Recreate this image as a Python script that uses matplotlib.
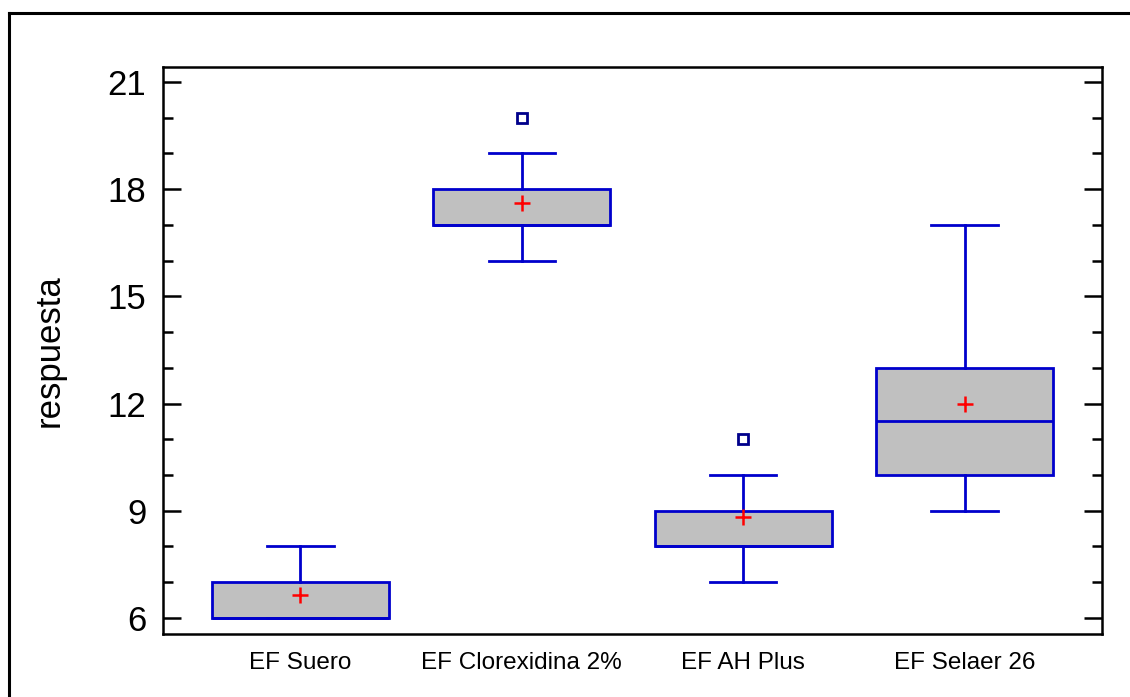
import matplotlib

matplotlib.use("Agg")
import matplotlib.pyplot as plt  # noqa: E402
from matplotlib.lines import Line2D  # noqa: E402
from matplotlib.ticker import MultipleLocator  # noqa: E402

# group labels and box-plot statistics
groups = ["EF Suero", "EF Clorexidina 2%", "EF AH Plus", "EF Selaer 26"]
q1 = [6, 17, 8, 10]
med = [6, 17, 8, 11.5]
q3 = [7, 18, 9, 13]
whis_lo = [6, 16, 7, 9]
whis_hi = [8, 19, 10, 17]
means = [6.63, 17.6, 8.83, 12.0]
outliers = [[], [20], [11], []]

W, H = 1130, 697
plt.rcParams["font.family"] = ["Liberation Sans", "DejaVu Sans"]

fig = plt.figure(figsize=(W / 100, H / 100), dpi=100)
ax = fig.add_axes([163 / W, 1 - 634 / H, (1102 - 163) / W, (634 - 67) / H])

stats = []
for i, g in enumerate(groups):
    stats.append(dict(label=g, q1=q1[i], med=med[i], q3=q3[i],
                      whislo=whis_lo[i], whishi=whis_hi[i],
                      mean=means[i], fliers=outliers[i]))

blue = "#0000CC"
ax.bxp(stats, positions=range(1, 5), widths=0.8, patch_artist=True,
       showmeans=True, showcaps=True,
       boxprops=dict(facecolor="#C0C0C0", edgecolor=blue, linewidth=2),
       medianprops=dict(color=blue, linewidth=2),
       whiskerprops=dict(color=blue, linewidth=2),
       capprops=dict(color=blue, linewidth=2),
       capwidths=0.3,
       meanprops=dict(marker="+", markeredgecolor="red", markersize=11,
                      markeredgewidth=1.8),
       flierprops=dict(marker="s", markerfacecolor="none", markeredgecolor="#00008B",
                       markersize=7, markeredgewidth=2))

ax.set_xlim(0.38, 4.62)
ax.set_ylim(5.55, 21.42)
ax.yaxis.set_major_locator(MultipleLocator(3))
ax.yaxis.set_minor_locator(MultipleLocator(1))
ax.tick_params(axis="y", which="major", direction="in", length=13, width=1.8,
               right=True, labelsize=25, pad=12)
ax.tick_params(axis="y", which="minor", direction="in", length=7, width=1.8,
               right=True)
ax.tick_params(axis="x", length=0, labelsize=17.5, pad=13)
for sp in ax.spines.values():
    sp.set_linewidth(1.8)

ax.set_ylabel("respuesta", fontsize=25, labelpad=30)

# outer frame of the picture (right and bottom run off the image)
fig.add_artist(Line2D([9 / W, 9 / W], [1 - 13 / H, 0], color="black", linewidth=2.2))
fig.add_artist(Line2D([9 / W, 1], [1 - 13 / H, 1 - 13 / H], color="black", linewidth=2.2))

fig.savefig("out.png", dpi=100)
